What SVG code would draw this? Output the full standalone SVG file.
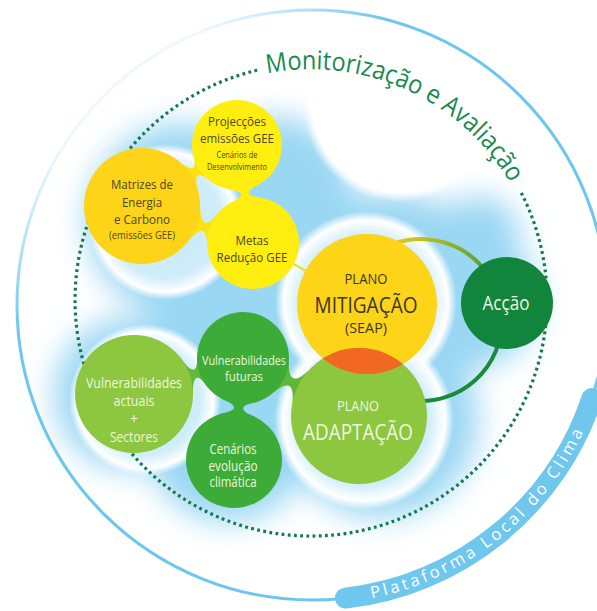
<svg xmlns="http://www.w3.org/2000/svg" width="597" height="611" viewBox="0 0 597 611">
  <defs>
    <style>
      .lbl{font-family:'Open Sans','Noto Sans','DejaVu Sans',sans-serif;text-anchor:middle;}
      .dk{fill:#4e4621;}
      .dk2{fill:#3b361c;}
      .lt{fill:#eef6df;}
      .arc-title{font-family:'Open Sans','Noto Sans','DejaVu Sans',sans-serif;font-size:26px;fill:#17894f;}
      .band-title{font-family:'Open Sans','Noto Sans','DejaVu Sans',sans-serif;font-size:16.5px;fill:#ffffff;}
      .yellow{fill:#ffee10;}
      .gold{fill:#fdd417;}
      .lgreen{fill:#8dc63f;}
      .mgreen{fill:#3dab37;}
      .dgreen{fill:#12853d;}
    </style>
    <filter id="haze" x="-40%" y="-40%" width="180%" height="180%">
      <feGaussianBlur stdDeviation="15"/>
    </filter>
    <radialGradient id="bubble">
      <stop offset="0" stop-color="#c6e8f8"/>
      <stop offset="0.72" stop-color="#d0edfa"/>
      <stop offset="0.9" stop-color="#ffffff"/>
      <stop offset="1" stop-color="#ffffff" stop-opacity="0"/>
    </radialGradient>
    <radialGradient id="bubbleWhite">
      <stop offset="0" stop-color="#ffffff"/>
      <stop offset="0.9" stop-color="#ffffff"/>
      <stop offset="1" stop-color="#ffffff" stop-opacity="0"/>
    </radialGradient>
    <linearGradient id="rimFade" gradientUnits="userSpaceOnUse" x1="130" y1="90" x2="201" y2="174">
      <stop offset="0" stop-color="#6ec6ee" stop-opacity="0.12"/>
      <stop offset="1" stop-color="#6ec6ee" stop-opacity="1"/>
    </linearGradient>
    <linearGradient id="arcTop" gradientUnits="userSpaceOnUse" x1="400" y1="245" x2="490" y2="285">
      <stop offset="0" stop-color="#d8c81e"/>
      <stop offset="1" stop-color="#3f9c33"/>
    </linearGradient>
    <clipPath id="clipAdapt"><circle cx="359" cy="416" r="68"/></clipPath>
    <path id="monPath" d="M267.1,73.5 A231,231 0 0 1 525.2,213.5"/>
    <path id="bandPath" d="M371.7,598.5 A299.5,299.5 0 0 0 593.4,407.4"/>
  </defs>

  <rect width="597" height="611" fill="#ffffff"/>

  <!-- soft blue haze behind the cluster -->
  <g id="haze-field" filter="url(#haze)" fill="#9ad7f3">
    <circle cx="182" cy="220" r="96"/>
    <circle cx="275" cy="195" r="78"/>
    <circle cx="238" cy="330" r="88"/>
    <circle cx="228" cy="440" r="82"/>
    <circle cx="130" cy="394" r="76"/>
    <circle cx="390" cy="300" r="108"/>
    <circle cx="380" cy="420" r="98"/>
    <circle cx="470" cy="300" r="68"/>
    <circle cx="478" cy="238" r="42"/>
  </g>

  <!-- bubbles -->
  <g id="bubbles">
    <circle cx="166" cy="222" r="78" fill="url(#bubble)"/>
    <circle cx="145" cy="400" r="76" fill="url(#bubble)"/>
    <circle cx="366" cy="302" r="91" fill="url(#bubble)"/>
    <circle cx="364" cy="420" r="90" fill="url(#bubble)"/>
    <circle cx="400" cy="105" r="97" fill="url(#bubbleWhite)"/>
  </g>

  <!-- monitoring ring -->
  <g id="monitoring">
    <path d="M521.3,192.9 A236,236 0 1 1 257.9,70.1" fill="none" stroke="#127a4e" stroke-width="3.2" stroke-dasharray="2.8 3.4"/>
    <text class="arc-title"><textPath href="#monPath" textLength="284" lengthAdjust="spacingAndGlyphs">Monitorização e Avaliação</textPath></text>
  </g>

  <!-- platform ring -->
  <g id="platform">
    <circle cx="312" cy="305" r="295" fill="none" stroke="url(#rimFade)" stroke-width="3"/>
    <path d="M345.4,598.1 A295,295 0 0 0 591.8,398.6" fill="none" stroke="#6fc7ee" stroke-width="21" stroke-linecap="round"/>
    <text class="band-title"><textPath href="#bandPath" textLength="279" lengthAdjust="spacing">Plataforma Local do Clima</textPath></text>
  </g>

  <!-- connectors -->
  <g id="connectors">
    <path d="M198.99,195.22 Q189.81,163.09 211.0,181.73 L192.78,153.36 Q200.94,180.39 175.51,158.66 Z" fill="#fde014"/>
    <path d="M186.14,243.62 Q206.93,216.58 207.09,245.86 L217.99,213.16 Q200.28,236.47 199.89,202.39 Z" fill="#fde014"/>
    <path d="M227.09,188.89 Q253.84,192.02 229.12,203.68 L263.13,198.13 Q236.0,194.94 260.36,183.47 Z" fill="#ffee10"/>
    <path d="M192.88,397.83 Q191.77,363.68 207.91,387.74 L197.10,355.01 Q198.47,383.95 179.01,355.86 Z" fill="#62b93a"/>
    <path d="M222.09,398.97 Q247.18,408.67 220.0,414.09 L255.82,417.25 Q230.03,407.18 256.41,402.0 Z" fill="#3dab37"/>
    <path d="M273.44,392.48 Q295.39,374.78 292.39,402.37 L308.12,370.89 Q287.86,389.85 288.85,361.66 Z" fill="#5db83a"/>
    <line x1="290" y1="262" x2="310" y2="273" stroke="#e6df38" stroke-width="2.5"/>
    <path d="M393.3,243.9 A81,81 0 0 1 500.8,305.9" fill="none" stroke="url(#arcTop)" stroke-width="4"/>
    <path d="M502,320 A81,81 0 0 1 413.9,400.7" fill="none" stroke="#1a8a3b" stroke-width="4"/>
  </g>

  <!-- nodes -->
  <g id="node-projeccoes">
    <circle class="yellow" cx="237" cy="145" r="45"/>
    <text class="lbl dk" x="237" y="126" font-size="12.5" textLength="58" lengthAdjust="spacingAndGlyphs">Projecções</text>
    <text class="lbl dk" x="237" y="143" font-size="12.5" textLength="74" lengthAdjust="spacingAndGlyphs">emissões GEE</text>
    <text class="lbl dk" x="237" y="158" font-size="8.3" textLength="41" lengthAdjust="spacingAndGlyphs">Cenários de</text>
    <text class="lbl dk" x="237" y="170" font-size="8.3" textLength="60" lengthAdjust="spacingAndGlyphs">Desenvolvimento</text>
  </g>

  <g id="node-matrizes">
    <circle class="gold" cx="142" cy="206" r="58"/>
    <text class="lbl dk" x="142" y="189" font-size="13.5" textLength="62" lengthAdjust="spacingAndGlyphs">Matrizes de</text>
    <text class="lbl dk" x="142" y="207" font-size="13.5" textLength="40" lengthAdjust="spacingAndGlyphs">Energia</text>
    <text class="lbl dk" x="142" y="224" font-size="13.5" textLength="56" lengthAdjust="spacingAndGlyphs">e Carbono</text>
    <text class="lbl dk" x="142" y="239" font-size="10.5" textLength="66" lengthAdjust="spacingAndGlyphs">(emissões GEE)</text>
  </g>

  <g id="node-metas">
    <circle class="yellow" cx="253" cy="243" r="46"/>
    <text class="lbl dk" x="252" y="245" font-size="13.5" textLength="33" lengthAdjust="spacingAndGlyphs">Metas</text>
    <text class="lbl dk" x="252" y="262" font-size="13.5" textLength="71" lengthAdjust="spacingAndGlyphs">Redução GEE</text>
  </g>

  <g id="node-mitigacao">
    <circle class="gold" cx="367" cy="304" r="70"/>
    <text class="lbl dk2" x="366" y="284" font-size="15" textLength="43" lengthAdjust="spacingAndGlyphs">PLANO</text>
    <text class="lbl dk2" x="366" y="313" font-size="22" textLength="103" lengthAdjust="spacingAndGlyphs">MITIGAÇÃO</text>
    <text class="lbl dk2" x="366" y="333" font-size="15" textLength="42" lengthAdjust="spacingAndGlyphs">(SEAP)</text>
  </g>

  <g id="node-adaptacao">
    <circle class="lgreen" cx="359" cy="416" r="68"/>
    <circle cx="367" cy="304" r="70" fill="#f26722" clip-path="url(#clipAdapt)"/>
    <text class="lbl lt" x="358" y="411" font-size="15" textLength="42" lengthAdjust="spacingAndGlyphs">PLANO</text>
    <text class="lbl lt" x="358" y="440" font-size="22" textLength="110" lengthAdjust="spacingAndGlyphs">ADAPTAÇÃO</text>
  </g>

  <g id="node-accao">
    <circle class="dgreen" cx="507" cy="303" r="46"/>
    <text class="lbl lt" x="506" y="310" font-size="20" textLength="47" lengthAdjust="spacingAndGlyphs">Acção</text>
  </g>

  <g id="node-vuln-futuras">
    <circle class="mgreen" cx="243" cy="358" r="46"/>
    <text class="lbl lt" x="244" y="365" font-size="13" textLength="84" lengthAdjust="spacingAndGlyphs">Vulnerabilidades</text>
    <text class="lbl lt" x="244" y="381" font-size="13" textLength="38" lengthAdjust="spacingAndGlyphs">futuras</text>
  </g>

  <g id="node-vuln-actuais">
    <circle class="lgreen" cx="134" cy="394" r="59"/>
    <text class="lbl lt" x="134" y="388" font-size="14" textLength="96" lengthAdjust="spacingAndGlyphs">Vulnerabilidades</text>
    <text class="lbl lt" x="134" y="406" font-size="14" textLength="41" lengthAdjust="spacingAndGlyphs">actuais</text>
    <text class="lbl lt" x="134" y="424" font-size="14">+</text>
    <text class="lbl lt" x="134" y="442" font-size="14" textLength="48" lengthAdjust="spacingAndGlyphs">Sectores</text>
  </g>

  <g id="node-cenarios">
    <circle class="mgreen" cx="234" cy="460" r="48"/>
    <text class="lbl lt" x="233" y="454" font-size="14" textLength="47" lengthAdjust="spacingAndGlyphs">Cenários</text>
    <text class="lbl lt" x="233" y="471" font-size="14" textLength="49" lengthAdjust="spacingAndGlyphs">evolução</text>
    <text class="lbl lt" x="233" y="487" font-size="14" textLength="47" lengthAdjust="spacingAndGlyphs">climática</text>
  </g>
</svg>
